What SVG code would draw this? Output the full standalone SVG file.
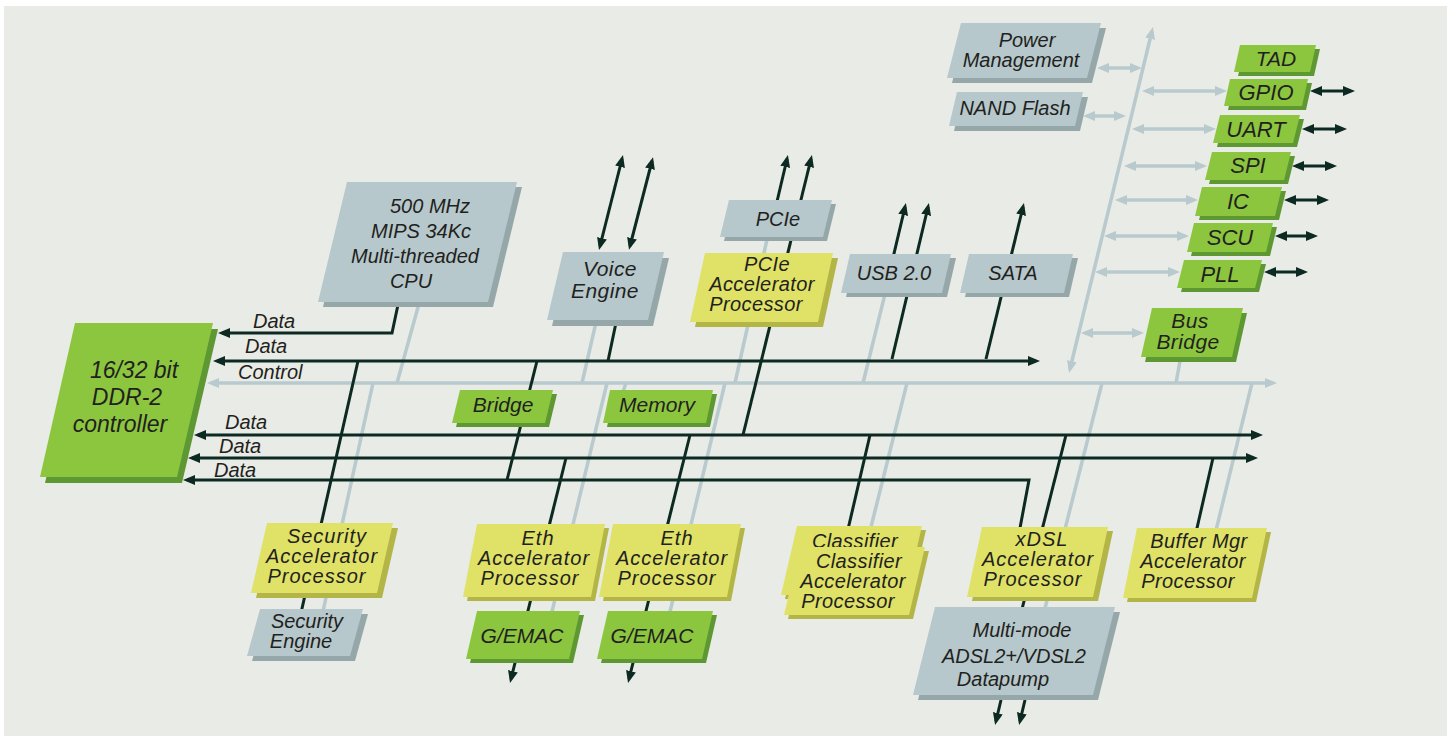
<svg xmlns="http://www.w3.org/2000/svg" width="1447" height="736" viewBox="0 0 1447 736">
<style>
.d{stroke:#0c2a22;stroke-width:3;fill:none;stroke-linejoin:miter}
.l{stroke:#b8cacd;stroke-width:3.5;fill:none}
.gf{fill:#b6c8cb}.gs{fill:#95a7a9}
.nf{fill:#8cc63f}.ns{fill:#5e9833}
.yf{fill:#dfe266}.ys{fill:#b3b546}
text{font-family:"Liberation Sans",Arial,sans-serif;font-style:italic;fill:#231f20;text-anchor:middle;font-size:20px}
.t22{font-size:22px}.t21{font-size:21px}.t23{font-size:23px}
.w1{letter-spacing:1px}.w0{letter-spacing:0.4px}
.lab{text-anchor:start}
</style>
<defs>
<marker id="ad" viewBox="0 0 12 10" refX="8" refY="5" markerWidth="12" markerHeight="10" markerUnits="userSpaceOnUse" orient="auto-start-reverse"><path d="M0,0 L12,5 L0,10 z" fill="#0c2a22"/></marker>
<marker id="al" viewBox="0 0 12 10" refX="8" refY="5" markerWidth="12" markerHeight="10" markerUnits="userSpaceOnUse" orient="auto-start-reverse"><path d="M0,0 L12,5 L0,10 z" fill="#b8cacd"/></marker>
</defs>
<rect width="1447" height="736" fill="#ffffff"/>
<rect x="4" y="6" width="1443" height="730" fill="#e9ebe6"/>

<g id="connectors">
<line class="l" x1="211" y1="383" x2="1273" y2="383" marker-start="url(#al)" marker-end="url(#al)"/>
<line class="l" x1="1070" y1="369" x2="1152" y2="31" marker-start="url(#al)" marker-end="url(#al)"/>
<line class="l" x1="420" y1="300" x2="397" y2="383"/>
<line class="l" x1="373" y1="383" x2="320" y2="625"/>
<line class="l" x1="597" y1="318" x2="582" y2="383"/>
<line class="l" x1="607" y1="383" x2="550" y2="620"/>
<line class="l" x1="626" y1="383" x2="622" y2="395"/>
<line class="l" x1="768" y1="235" x2="735" y2="383"/>
<line class="l" x1="725" y1="383" x2="668" y2="620"/>
<line class="l" x1="886" y1="290" x2="863" y2="383"/>
<line class="l" x1="907" y1="383" x2="864" y2="555"/>
<line class="l" x1="1102" y1="383" x2="1042" y2="620"/>
<line class="l" x1="1252" y1="383" x2="1210" y2="555"/>
<line class="l" x1="1182" y1="350" x2="1176" y2="383"/>
<line class="l" x1="1101" y1="68" x2="1138" y2="68" marker-start="url(#al)" marker-end="url(#al)"/>
<line class="l" x1="1087" y1="116" x2="1122" y2="116" marker-start="url(#al)" marker-end="url(#al)"/>
<line class="l" x1="1146" y1="91" x2="1223" y2="91" marker-start="url(#al)" marker-end="url(#al)"/>
<line class="l" x1="1136" y1="129" x2="1212" y2="129" marker-start="url(#al)" marker-end="url(#al)"/>
<line class="l" x1="1128" y1="166" x2="1203" y2="166" marker-start="url(#al)" marker-end="url(#al)"/>
<line class="l" x1="1119" y1="200" x2="1194" y2="200" marker-start="url(#al)" marker-end="url(#al)"/>
<line class="l" x1="1108" y1="236" x2="1185" y2="236" marker-start="url(#al)" marker-end="url(#al)"/>
<line class="l" x1="1099" y1="272" x2="1176" y2="272" marker-start="url(#al)" marker-end="url(#al)"/>
<line class="l" x1="1085" y1="333" x2="1140" y2="333" marker-start="url(#al)" marker-end="url(#al)"/>
<polyline class="d" points="399,300 392,333 222,333" marker-end="url(#ad)"/>
<line class="d" x1="217" y1="361" x2="1036" y2="361" marker-start="url(#ad)" marker-end="url(#ad)"/>
<line class="d" x1="198" y1="435" x2="1259" y2="435" marker-start="url(#ad)" marker-end="url(#ad)"/>
<line class="d" x1="192" y1="458" x2="1254" y2="458" marker-start="url(#ad)" marker-end="url(#ad)"/>
<polyline class="d" points="1014,560 1029,480 187,480" marker-end="url(#ad)"/>
<line class="d" x1="358" y1="361" x2="296" y2="635"/>
<line class="d" x1="537" y1="361" x2="507" y2="480"/>
<line class="d" x1="617" y1="318" x2="608" y2="361"/>
<line class="d" x1="600" y1="246" x2="622" y2="159" marker-start="url(#ad)" marker-end="url(#ad)"/>
<line class="d" x1="630" y1="246" x2="652" y2="161" marker-start="url(#ad)" marker-end="url(#ad)"/>
<line class="d" x1="775" y1="210" x2="787" y2="159" marker-end="url(#ad)"/>
<line class="d" x1="743" y1="435" x2="811" y2="159" marker-end="url(#ad)"/>
<line class="d" x1="892" y1="262" x2="905" y2="207" marker-end="url(#ad)"/>
<line class="d" x1="892" y1="359" x2="928" y2="207" marker-end="url(#ad)"/>
<line class="d" x1="986" y1="359" x2="1023" y2="207" marker-end="url(#ad)"/>
<line class="d" x1="566" y1="458" x2="511" y2="679" marker-end="url(#ad)"/>
<line class="d" x1="690" y1="435" x2="629" y2="679" marker-end="url(#ad)"/>
<line class="d" x1="870" y1="435" x2="842" y2="555"/>
<line class="d" x1="1066" y1="435" x2="1018" y2="625"/>
<line class="d" x1="1213" y1="458" x2="1192" y2="550"/>
<line class="d" x1="1001" y1="700" x2="996" y2="721" marker-end="url(#ad)"/>
<line class="d" x1="1025" y1="700" x2="1020" y2="721" marker-end="url(#ad)"/>
<line class="d" x1="1314" y1="91" x2="1351" y2="91" marker-start="url(#ad)" marker-end="url(#ad)"/>
<line class="d" x1="1306" y1="129" x2="1343" y2="129" marker-start="url(#ad)" marker-end="url(#ad)"/>
<line class="d" x1="1296" y1="166" x2="1333" y2="166" marker-start="url(#ad)" marker-end="url(#ad)"/>
<line class="d" x1="1288" y1="200" x2="1325" y2="200" marker-start="url(#ad)" marker-end="url(#ad)"/>
<line class="d" x1="1279" y1="236" x2="1314" y2="236" marker-start="url(#ad)" marker-end="url(#ad)"/>
<line class="d" x1="1268" y1="272" x2="1304" y2="272" marker-start="url(#ad)" marker-end="url(#ad)"/>
<text class="lab" x="253" y="328">Data</text>
<text class="lab" x="245" y="353">Data</text>
<text class="lab" x="238" y="379">Control</text>
<text class="lab" x="225" y="429">Data</text>
<text class="lab" x="219" y="453">Data</text>
<text class="lab" x="214" y="477">Data</text>
</g>

<g id="cpu">
<polygon class="gs" points="352,187 522,187 493,307 323,307"/>
<polygon class="gf" points="347,182 517,182 488,302 318,302"/>
<text x="430" y="213">500 MHz</text><text x="421" y="238">MIPS 34Kc</text><text x="415" y="263">Multi-threaded</text><text x="411" y="288">CPU</text>
</g>
<g id="ddr">
<polygon class="ns" points="80,329 218,329 182,483 45,483"/>
<polygon class="nf" points="75,323 213,323 177,477 40,477"/>
<text class="t23" x="134" y="378">16/32 bit</text><text class="t23" x="127" y="405">DDR-2</text><text class="t23" x="120" y="432">controller</text>
</g>
<g id="voice">
<polygon class="gs" points="568,258 669,258 653,326 552,326"/>
<polygon class="gf" points="563,252 664,252 648,320 547,320"/>
<text class="t21 w0" x="610" y="276">Voice</text><text class="t21 w0" x="605" y="298">Engine</text>
</g>
<g id="pcie">
<polygon class="gs" points="733,204 836,204 827,241 724,241"/>
<polygon class="gf" points="729,200 832,200 823,237 720,237"/>
<text x="778" y="226">PCIe</text>
</g>
<g id="pcieacc">
<polygon class="ys" points="710,258 838,258 823,327 695,327"/>
<polygon class="yf" points="705,253 833,253 818,322 690,322"/>
<text class="w0" x="767" y="271">PCIe</text><text class="w0" x="762" y="291">Accelerator</text><text class="w0" x="756" y="311">Processor</text>
</g>
<g id="usb">
<polygon class="gs" points="855,258 956,258 947,297 846,297"/>
<polygon class="gf" points="850,254 951,254 942,293 841,293"/>
<text x="894" y="280">USB 2.0</text>
</g>
<g id="sata">
<polygon class="gs" points="974,258 1078,258 1069,297 965,297"/>
<polygon class="gf" points="969,254 1073,254 1064,293 960,293"/>
<text x="1013" y="280">SATA</text>
</g>
<g id="power">
<polygon class="gs" points="966,28 1106,28 1092,83 952,83"/>
<polygon class="gf" points="961,23 1101,23 1087,78 947,78"/>
<text x="1027" y="47">Power</text><text x="1021" y="67">Management</text>
</g>
<g id="nand">
<polygon class="gs" points="962,97 1088,97 1080,131 954,131"/>
<polygon class="gf" points="957,92 1083,92 1075,126 949,126"/>
<text x="1015" y="115">NAND Flash</text>
</g>
<g id="tad">
<polygon class="ns" points="1244,49 1320,49 1314,76 1238,76"/>
<polygon class="nf" points="1240,45 1316,45 1310,72 1234,72"/>
<text class="t21" x="1276" y="66">TAD</text>
</g>
<g id="gpio">
<polygon class="ns" points="1234,83 1312,83 1306,110 1228,110"/>
<polygon class="nf" points="1230,79 1308,79 1302,106 1224,106"/>
<text class="t22" x="1266" y="100">GPIO</text>
</g>
<g id="uart">
<polygon class="ns" points="1224,119 1304,119 1297,147 1217,147"/>
<polygon class="nf" points="1220,115 1300,115 1293,143 1213,143"/>
<text class="t22" x="1256" y="137">UART</text>
</g>
<g id="spi">
<polygon class="ns" points="1216,156 1295,156 1288,184 1209,184"/>
<polygon class="nf" points="1212,152 1291,152 1284,180 1205,180"/>
<text class="t22" x="1248" y="173">SPI</text>
</g>
<g id="ic">
<polygon class="ns" points="1206,191 1286,191 1279,220 1199,220"/>
<polygon class="nf" points="1202,187 1282,187 1275,216 1195,216"/>
<text class="t22" x="1238" y="209">IC</text>
</g>
<g id="scu">
<polygon class="ns" points="1198,227 1277,227 1270,256 1191,256"/>
<polygon class="nf" points="1194,223 1273,223 1266,252 1187,252"/>
<text class="t22" x="1230" y="245">SCU</text>
</g>
<g id="pll">
<polygon class="ns" points="1188,264 1266,264 1259,292 1181,292"/>
<polygon class="nf" points="1184,260 1262,260 1255,288 1177,288"/>
<text class="t22" x="1220" y="282">PLL</text>
</g>
<g id="busbridge">
<polygon class="ns" points="1156,313 1247,313 1236,362 1145,362"/>
<polygon class="nf" points="1152,308 1243,308 1232,357 1141,357"/>
<text class="t21 w0" x="1190" y="328">Bus</text><text class="t21 w0" x="1188" y="349">Bridge</text>
</g>
<g id="bridge">
<polygon class="ns" points="464,394 557,394 549,427 456,427"/>
<polygon class="nf" points="460,390 553,390 545,423 452,423"/>
<text class="t21" x="503" y="412">Bridge</text>
</g>
<g id="memory">
<polygon class="ns" points="614,394 717,394 710,427 607,427"/>
<polygon class="nf" points="610,390 713,390 706,423 603,423"/>
<text class="t21" x="657" y="412">Memory</text>
</g>
<g id="secacc">
<polygon class="ys" points="272,528 398,528 382,598 256,598"/>
<polygon class="yf" points="267,523 393,523 377,593 251,593"/>
<text class="w1" x="327" y="543">Security</text><text class="w1" x="322" y="563">Accelerator</text><text class="w1" x="317" y="583">Processor</text>
</g>
<g id="seceng">
<polygon class="gs" points="265,614 368,614 355,661 252,661"/>
<polygon class="gf" points="260,609 363,609 350,656 247,656"/>
<text x="307" y="628">Security</text><text x="301" y="648">Engine</text>
</g>
<g id="eth1">
<polygon class="ys" points="481,528 609,528 595,601 467,601"/>
<polygon class="yf" points="477,524 605,524 591,597 463,597"/>
<text class="w1" x="538" y="545">Eth</text><text class="w1" x="534" y="565">Accelerator</text><text class="w1" x="530" y="585">Processor</text>
</g>
<g id="eth2">
<polygon class="ys" points="617,528 745,528 731,601 603,601"/>
<polygon class="yf" points="613,524 741,524 727,597 599,597"/>
<text class="w1" x="677" y="545">Eth</text><text class="w1" x="672" y="565">Accelerator</text><text class="w1" x="667" y="585">Processor</text>
</g>
<g id="gemac1">
<polygon class="ns" points="481,615 584,615 573,663 470,663"/>
<polygon class="nf" points="477,611 580,611 569,659 466,659"/>
<text class="t21" x="522" y="643">G/EMAC</text>
</g>
<g id="gemac2">
<polygon class="ns" points="612,615 717,615 706,663 601,663"/>
<polygon class="nf" points="608,611 713,611 702,659 597,659"/>
<text class="t21" x="652" y="643">G/EMAC</text>
</g>
<g id="classifier">
<polygon class="ys" points="801,530 926,530 910,599 785,599"/>
<polygon class="yf" points="797,526 922,526 906,595 781,595"/>
<text class="w0" x="855" y="548">Classifier</text>
<polygon class="ys" points="804,551 929,551 913,619 788,619"/>
<polygon class="yf" points="800,547 925,547 909,615 784,615"/>
<text class="w0" x="859" y="568">Classifier</text><text class="w0" x="853" y="588">Accelerator</text><text class="w0" x="848" y="608">Processor</text>
</g>
<g id="xdsl">
<polygon class="ys" points="987,531 1113,531 1098,601 972,601"/>
<polygon class="yf" points="982,527 1108,527 1093,597 967,597"/>
<text class="w1" x="1042" y="546">xDSL</text><text class="w1" x="1038" y="566">Accelerator</text><text class="w1" x="1033" y="586">Processor</text>
</g>
<g id="datapump">
<polygon class="gs" points="940,612 1120,612 1098,700 918,700"/>
<polygon class="gf" points="935,607 1115,607 1093,695 913,695"/>
<text x="1022" y="637">Multi-mode</text><text x="1014" y="663">ADSL2+/VDSL2</text><text x="1003" y="686">Datapump</text>
</g>
<g id="buffer">
<polygon class="ys" points="1141,532 1271,532 1256,602 1127,602"/>
<polygon class="yf" points="1137,528 1267,528 1252,598 1123,598"/>
<text class="w0" x="1199" y="548">Buffer Mgr</text><text class="w0" x="1193" y="568">Accelerator</text><text class="w0" x="1188" y="588">Processor</text>
</g>
</svg>
